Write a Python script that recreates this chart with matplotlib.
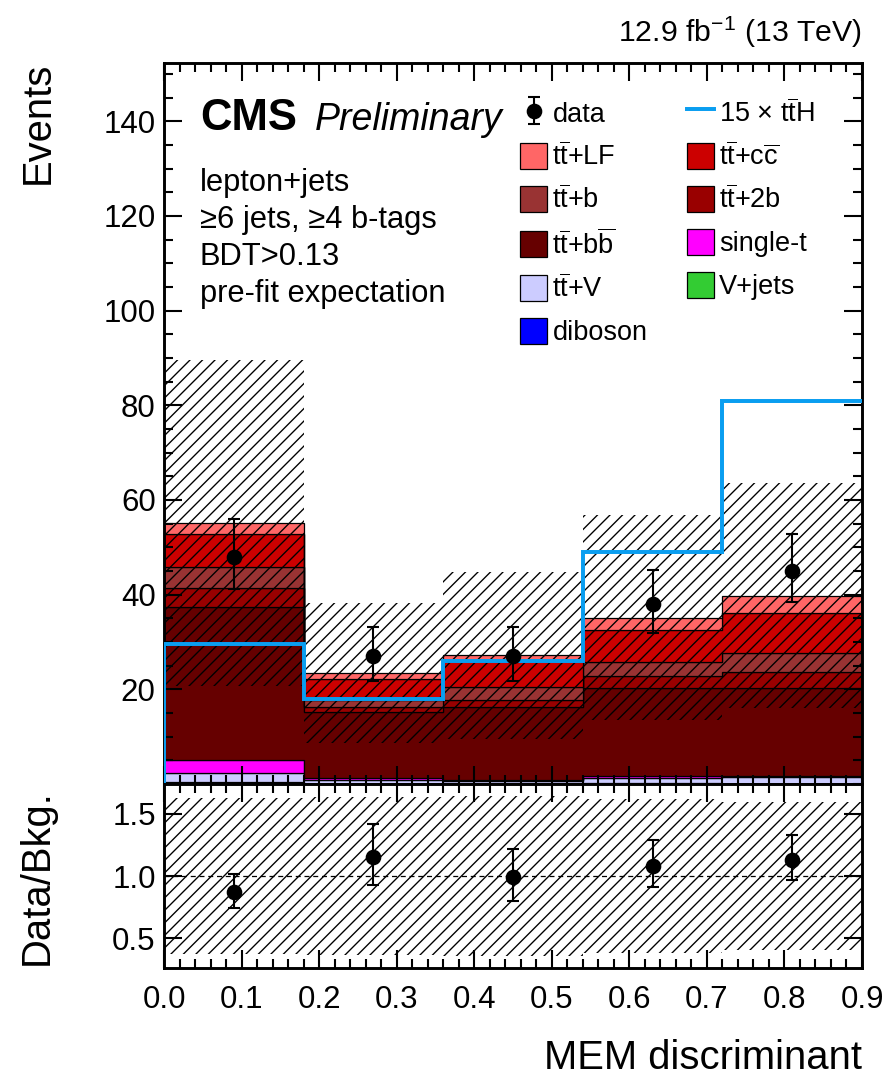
import matplotlib
matplotlib.use("Agg")
import matplotlib.pyplot as plt
import numpy as np
from matplotlib.ticker import MultipleLocator, FixedLocator, FormatStrFormatter

plt.rcParams['font.family'] = ['Liberation Sans', 'DejaVu Sans']
plt.rcParams['mathtext.fontset'] = 'custom'
plt.rcParams['mathtext.rm'] = 'Liberation Sans'
plt.rcParams['mathtext.it'] = 'Liberation Sans:italic'
plt.rcParams['mathtext.bf'] = 'Liberation Sans:bold'
plt.rcParams['hatch.linewidth'] = 0.65
plt.rcParams['hatch.color'] = 'black'

# binning of the MEM discriminant
edges = np.array([0.0, 0.18, 0.36, 0.54, 0.72, 0.9])

# backgrounds, bottom to top of the stack
diboson = np.array([0.05, 0.0, 0.0, 0.02, 0.0])
vjets = np.array([0.35, 0.1, 0.0, 0.1, 0.05])
ttv = np.array([1.85, 0.8, 0.6, 1.2, 1.4])
single_t = np.array([2.75, 0.3, 0.2, 0.3, 0.2])
ttbb = np.array([32.3, 14.1, 15.5, 18.6, 18.55])
tt2b = np.array([4.2, 1.0, 1.4, 2.5, 3.4])
ttb = np.array([4.4, 1.5, 2.8, 3.1, 4.0])
ttcc = np.array([7.0, 4.3, 5.6, 6.7, 8.6])
ttlf = np.array([2.2, 1.3, 1.1, 2.6, 3.6])

# total background uncertainty (absolute)
bkg_unc = np.array([34.4, 14.8, 17.6, 21.7, 23.8])

# signal x15
tth15 = np.array([29.5, 18.0, 26.0, 49.0, 81.0])

# data with Poisson intervals
data = np.array([48, 27, 27, 38, 45])
data_lo = np.array([41.1, 21.8, 21.8, 31.9, 38.4])
data_hi = np.array([56.0, 33.2, 33.2, 45.2, 52.8])

TT = r'$\mathrm{t\overline{t}}$'
names = ['diboson', 'V+jets', TT + '+V', 'single-t',
         TT + r'+$\mathrm{b\overline{b}}$', TT + '+2b',
         TT + '+b', TT + r'+$\mathrm{c\overline{c}}$',
         TT + '+LF']
colors = ['#0000ff', '#33cc33', '#ccccff', '#ff00ff', '#660000',
          '#990000', '#993333', '#cc0000', '#ff6666']
comps = [diboson, vjets, ttv, single_t, ttbb, tt2b, ttb, ttcc, ttlf]

centers = 0.5 * (edges[:-1] + edges[1:])

fig = plt.figure(figsize=(890 / 150, 1083 / 150), dpi=150)
ax = fig.add_axes([164 / 890, 1 - 784 / 1083, 698 / 890, 721 / 1083])
rax = fig.add_axes([164 / 890, 1 - 968 / 1083, 698 / 890, 184 / 1083])

# stacked backgrounds
handles = {}
bottom = np.zeros(len(centers))
for name, col, vals in zip(names, colors, comps):
    h = ax.stairs(bottom + vals, edges, baseline=bottom.copy(), fill=True,
                  facecolor=col, edgecolor='black', linewidth=0.6, zorder=1)
    handles[name] = h
    bottom = bottom + vals
total = bottom

# uncertainty band
ax.stairs(total + bkg_unc, edges, baseline=total - bkg_unc, fill=True,
          facecolor='none', edgecolor='black', linewidth=0, hatch='////', zorder=2)

# ttH x15
tth_col = '#0a9ef0'
sig = ax.stairs(tth15, edges, baseline=None, color=tth_col, linewidth=1.9, zorder=3)
ax.vlines(edges[0], 0, tth15[0], color=tth_col, linewidth=1.9, zorder=3)

# data
dat = ax.errorbar(centers, data, yerr=[data - data_lo, data_hi - data], fmt='o',
                  color='black', markersize=6.5, elinewidth=1.0, capsize=2.9,
                  capthick=1.0, zorder=4)

ax.set_xlim(0, 0.9)
ax.set_ylim(0, 152.3)
ax.yaxis.set_major_locator(FixedLocator([20, 40, 60, 80, 100, 120, 140]))
ax.yaxis.set_minor_locator(MultipleLocator(5))
ax.xaxis.set_major_locator(MultipleLocator(0.1))
ax.xaxis.set_minor_locator(MultipleLocator(0.02))
ax.tick_params(labelbottom=False)

# ratio panel
rel = bkg_unc / total
rax.stairs(1 + rel, edges, baseline=1 - rel, fill=True, facecolor='none',
           edgecolor='black', linewidth=0, hatch='////', zorder=2)
rax.axhline(1.0, color='black', linestyle='--', linewidth=0.6, dashes=(4, 3), zorder=3)
ratio = data / total
rax.errorbar(centers, ratio, yerr=[(data - data_lo) / total, (data_hi - data) / total],
             fmt='o', color='black', markersize=6.5, elinewidth=1.0, capsize=2.9,
             capthick=1.0, zorder=4)
rax.set_xlim(0, 0.9)
rax.set_ylim(0.26, 1.74)
rax.yaxis.set_major_locator(FixedLocator([0.5, 1.0, 1.5]))
rax.yaxis.set_major_formatter(FormatStrFormatter('%.1f'))
rax.xaxis.set_major_locator(MultipleLocator(0.1))
rax.xaxis.set_minor_locator(MultipleLocator(0.02))
rax.xaxis.set_major_formatter(FormatStrFormatter('%.1f'))

for a in (ax, rax):
    for s in a.spines.values():
        s.set_linewidth(1.4)
    a.tick_params(which='both', direction='in', top=True, right=True,
                  width=1.0, labelsize=15)
    a.tick_params(which='major', length=8.5)
    a.tick_params(which='minor', length=4.3)
    a.tick_params(axis='y', pad=4)
    a.tick_params(axis='x', pad=8)

# labels
fig.text(56.4 / 890, 1 - 62 / 1083, 'Events', rotation=90, ha='right', va='top', fontsize=19.2)
fig.text(55.4 / 890, 1 - 877 / 1083, 'Data/Bkg.', rotation=90, ha='right', va='center', fontsize=19.2)
fig.text(862 / 890, 1 - 1069 / 1083, 'MEM discriminant', ha='right', va='baseline', fontsize=19.2)
fig.text(862 / 890, 1 - 42 / 1083, r'12.9 fb$^{-1}$ (13 TeV)', ha='right', va='baseline', fontsize=14.5)

fig.text(200 / 890, 1 - 130 / 1083, 'CMS', fontweight='bold', fontsize=21, va='baseline')
fig.text(315 / 890, 1 - 130 / 1083, 'Preliminary', style='italic', fontsize=18, va='baseline')
info = ['lepton+jets', '≥6 jets, ≥4 b-tags', 'BDT>0.13', 'pre-fit expectation']
for i, t in enumerate(info):
    fig.text(200 / 890, 1 - (190.5 + 37.3 * i) / 1083, t, fontsize=14.8, va='baseline')

# legend, filled column-wise
order1 = [(dat, 'data')] + [(handles[n], n) for n in
          [TT + '+LF', TT + '+b', TT + r'+$\mathrm{b\overline{b}}$', TT + '+V', 'diboson']]
order2 = [(sig, '15 × ' + TT + 'H')] + [(handles[n], n) for n in
          [TT + r'+$\mathrm{c\overline{c}}$', TT + '+2b', 'single-t', 'V+jets']]
hl = order1 + order2
leg = ax.legend([h for h, _ in hl], [l for _, l in hl], ncol=2, loc='upper left',
                bbox_to_anchor=(520 / 890, 1 - 99 / 1083), bbox_transform=fig.transFigure,
                frameon=False, fontsize=13, handlelength=1.0, handleheight=1.1,
                handletextpad=0.2, columnspacing=1.45, labelspacing=0.54,
                borderpad=0, borderaxespad=0)

fig.savefig('out.png', dpi=150)
